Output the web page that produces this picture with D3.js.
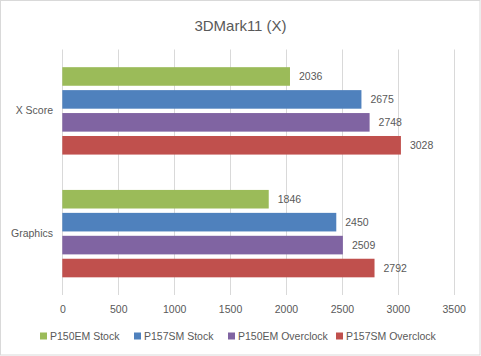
<!DOCTYPE html>
<html><head><meta charset="utf-8">
<script src="https://cdn.jsdelivr.net/npm/d3@7"></script>
<style>body{margin:0;background:#fff}svg{display:block}text{font-family:"Liberation Sans",Arial,sans-serif;fill:#595959}</style>
</head><body>
<script>
const categories = ["X Score", "Graphics"];
const seriesNames = ["P150EM Stock", "P157SM Stock", "P150EM Overclock", "P157SM Overclock"];
const seriesColors = ["#9BBB59", "#4F81BD", "#8064A2", "#C0504D"];
const p150emStock = [2036, 1846];
const p157smStock = [2675, 2450];
const p150emOverclock = [2748, 2509];
const p157smOverclock = [3028, 2792];
const tickValues = [0, 500, 1000, 1500, 2000, 2500, 3000, 3500];
const series = [p150emStock, p157smStock, p150emOverclock, p157smOverclock];

const W = 481, H = 356;
const svg = d3.select("body").append("svg").attr("width", W).attr("height", H);
svg.append("rect").attr("x", 0.5).attr("y", 0.5).attr("width", W - 1.5).attr("height", H - 1.5)
  .attr("fill", "#fff").attr("stroke", "#d9d9d9");

const plot = {left: 62.3, right: 453.7, top: 49.5, bottom: 295};
const x = d3.scaleLinear().domain([0, 3500]).range([plot.left, plot.right]);
const y0 = d3.scaleBand().domain(categories).range([plot.top, plot.bottom]).paddingInner(0).paddingOuter(0);
const y1 = d3.scaleBand().domain(d3.range(series.length)).range([15.5, y0.bandwidth() - 15.5]).paddingInner(0.19).paddingOuter(0.095);

svg.append("text").attr("x", W / 2).attr("y", 31).attr("text-anchor", "middle")
  .style("font-size", "15px").text("3DMark11 (X)");

// gridlines
svg.append("g").selectAll("line").data(tickValues).join("line")
  .attr("x1", d => Math.round(x(d)) + 0.5).attr("x2", d => Math.round(x(d)) + 0.5)
  .attr("y1", plot.top).attr("y2", plot.bottom)
  .attr("stroke", "#d9d9d9").attr("stroke-width", 1);

// x axis labels
const xAxis = d3.axisBottom(x).tickValues(tickValues).tickFormat(d3.format("d")).tickSize(0).tickPadding(0);
const gx = svg.append("g").attr("transform", `translate(0,${plot.bottom + 18})`).call(xAxis);
gx.select(".domain").remove();
gx.selectAll("text").style("font-size", "10.5px").attr("fill", "#595959").attr("dy", 0).attr("y", 0);

// y axis labels
const yAxis = d3.axisLeft(y0).tickSize(0).tickPadding(0);
const gy = svg.append("g").attr("transform", `translate(53,0)`).call(yAxis);
gy.select(".domain").remove();
gy.selectAll("text").style("font-size", "10.5px").attr("fill", "#595959");

// bars
const groups = svg.append("g").selectAll("g").data(categories).join("g")
  .attr("transform", c => `translate(0,${y0(c)})`);
groups.each(function(c, ci) {
  const g = d3.select(this);
  series.forEach((s, si) => {
    g.append("rect").attr("x", x(0)).attr("y", y1(si))
      .attr("width", x(s[ci]) - x(0)).attr("height", y1.bandwidth())
      .attr("fill", seriesColors[si]);
    g.append("text").attr("x", x(s[ci]) + 9).attr("y", y1(si) + y1.bandwidth() / 2)
      .attr("dy", "0.35em").style("font-size", "10.5px").text(s[ci]);
  });
});

// legend
const legendX = [40, 134, 228, 336];
const lg = svg.append("g").selectAll("g").data(seriesNames).join("g")
  .attr("transform", (d, i) => `translate(${legendX[i]},336)`);
lg.append("rect").attr("x", 0).attr("y", -3.5).attr("width", 7).attr("height", 7)
  .attr("fill", (d, i) => seriesColors[i]);
lg.append("text").attr("x", 10).attr("dy", "0.35em").style("font-size", "10.5px").text(d => d);
</script>
</body></html>
